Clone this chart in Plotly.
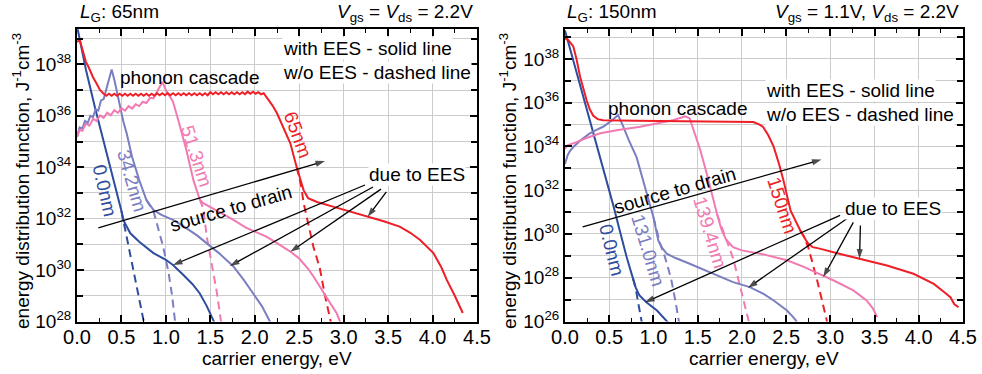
import plotly.graph_objects as go

FONT = "Liberation Sans, Arial, sans-serif"
BLUE = "#2f4d9e"
PURPLE = "#7c7ec2"
PINK = "#f27ab2"
RED = "#ee1f26"

# ---------------- data: L_G = 65 nm (y given as log10 of J^-1 cm^-3) ----------------
blue65_x = [0.0, 0.1, 0.2, 0.3, 0.4, 0.5, 0.52, 0.6, 0.7, 0.86, 1.0, 1.08, 1.2, 1.3, 1.38, 1.46, 1.53, 1.58]
blue65_e = [39.5, 37.8, 36.35, 35.0, 33.75, 32.3, 31.95, 31.43, 31.1, 30.66, 30.4, 30.2, 29.8, 29.45, 29.1, 28.6, 28.07, 27.7]
blue65d_x = [0.5, 0.52, 0.6, 0.63, 0.7, 0.75, 0.78]
blue65d_e = [32.3, 31.95, 30.6, 30.1, 28.9, 28.04, 27.5]

purple65_x = [0.0, 0.03, 0.06, 0.09, 0.12, 0.15, 0.18, 0.21, 0.24, 0.27, 0.30, 0.33, 0.36, 0.39,
              0.42, 0.47, 0.52, 0.56, 0.62, 0.7, 0.78, 0.86, 0.95, 1.08, 1.2, 1.35, 1.46, 1.6, 1.76,
              1.88, 1.98, 2.08, 2.17, 2.22]
purple65_e = [35.18, 35.55, 35.5, 35.8, 35.72, 36.0, 35.95, 36.25, 36.2, 36.6, 36.65, 37.05, 37.35, 37.8,
              37.4, 36.6, 35.8, 35.3, 34.4, 33.5, 32.73, 32.34, 32.15, 31.95, 31.7, 31.35, 31.04, 30.65, 30.14,
              29.6, 29.1, 28.6, 28.0, 27.6]
purple65d_x = [0.78, 0.86, 0.97, 1.03, 1.07, 1.1, 1.12]
purple65d_e = [32.73, 32.3, 30.9, 29.9, 29.0, 28.0, 27.5]

pink65_x = [0.0, 0.03, 0.06, 0.1, 0.14, 0.18, 0.22, 0.26, 0.3, 0.34, 0.38, 0.42, 0.46, 0.5, 0.54,
            0.58, 0.62, 0.66, 0.7, 0.74, 0.78, 0.82, 0.86, 0.9, 0.93, 0.96, 1.0, 1.04, 1.08, 1.15,
            1.23, 1.31, 1.38, 1.42, 1.5, 1.6, 1.76, 1.9, 2.0, 2.13, 2.25, 2.4, 2.5, 2.6, 2.67,
            2.73, 2.8, 2.86, 2.92, 2.97]
pink65_e = [35.18, 35.45, 35.42, 35.7, 35.62, 35.88, 35.8, 36.02, 35.92, 36.12, 36.02, 36.22, 36.12, 36.3, 36.2,
            36.38, 36.28, 36.45, 36.38, 36.55, 36.5, 36.7, 36.68, 36.95, 37.1, 37.32, 37.0, 36.8, 36.55, 35.7,
            34.67, 33.5, 32.75, 32.6, 32.45, 32.25, 31.95, 31.65, 31.5, 31.3, 31.05, 30.72, 30.45, 30.05, 29.7,
            29.36, 28.95, 28.65, 28.33, 27.9]
pink65d_x = [1.38, 1.42, 1.46, 1.52, 1.57, 1.62, 1.64]
pink65d_e = [32.75, 32.4, 31.3, 30.1, 29.2, 28.0, 27.6]

red65_x = [0.0, 0.03, 0.06, 0.1, 0.13, 0.18, 0.22, 0.26,
           0.30, 0.33, 0.36, 0.39, 0.42, 0.45, 0.48, 0.51, 0.54, 0.57, 0.60, 0.63, 0.66, 0.69, 0.72, 0.75,
           0.78, 0.81, 0.84, 0.87, 0.90, 0.93, 0.96, 0.99, 1.02, 1.05, 1.08, 1.11, 1.14, 1.17, 1.20, 1.23,
           1.26, 1.29, 1.32, 1.35, 1.38, 1.41, 1.44, 1.47, 1.50, 1.53, 1.56, 1.59, 1.62, 1.65, 1.68, 1.71,
           1.74, 1.77, 1.80, 1.83, 1.86, 1.89, 1.92, 1.95, 1.98, 2.01, 2.04, 2.07, 2.10,
           2.13, 2.2, 2.25, 2.33, 2.4, 2.47, 2.52, 2.55, 2.6, 2.7, 2.88, 3.0, 3.26, 3.45, 3.63, 3.75,
           3.86, 4.01, 4.1, 4.16, 4.25, 4.34]
red65_e = [38.87, 38.95, 38.6, 38.1, 37.9, 37.5, 37.26, 37.0,
           36.86, 36.78, 36.86, 36.78, 36.86, 36.78, 36.86, 36.78, 36.86, 36.78, 36.86, 36.78, 36.86, 36.78, 36.86, 36.78,
           36.86, 36.78, 36.86, 36.78, 36.88, 36.80, 36.88, 36.80, 36.88, 36.80, 36.88, 36.80, 36.88, 36.80, 36.88, 36.80,
           36.88, 36.80, 36.88, 36.80, 36.88, 36.80, 36.88, 36.80, 36.92, 36.84, 36.92, 36.84, 36.92, 36.84, 36.92, 36.84,
           36.92, 36.84, 36.92, 36.84, 36.92, 36.84, 36.94, 36.86, 36.94, 36.86, 36.92, 36.84, 36.88,
           36.74, 36.4, 36.1, 35.5, 34.93, 34.02, 33.4, 33.1, 32.8, 32.65, 32.47, 32.35, 32.08, 31.9, 31.69, 31.45,
           31.17, 30.66, 30.1, 29.62, 29.0, 28.33]
red65d_x = [2.47, 2.52, 2.55, 2.6, 2.66, 2.73, 2.79, 2.85, 2.88]
red65d_e = [34.02, 33.3, 32.6, 31.8, 30.9, 30.1, 29.0, 28.07, 27.6]

# ---------------- data: L_G = 150 nm ----------------
blue150_x = [0.0, 0.1, 0.2, 0.3, 0.4, 0.47, 0.55, 0.61, 0.7, 0.77, 0.8, 0.84, 0.92, 1.04, 1.15, 1.2]
blue150_e = [39.3, 37.85, 36.35, 34.9, 33.45, 32.45, 31.25, 30.3, 28.9, 27.95, 27.55, 27.2, 26.88, 26.5, 26.05, 25.8]
blue150d_x = [0.77, 0.8, 0.83, 0.86, 0.88]
blue150d_e = [27.95, 27.5, 26.8, 26.1, 25.7]

purple150_x = [0.0, 0.03, 0.057, 0.1, 0.18, 0.28, 0.35, 0.43, 0.5, 0.56, 0.6, 0.65, 0.72, 0.81, 0.886,
               0.95, 1.0, 1.055, 1.1, 1.15, 1.25, 1.41, 1.6, 1.75, 1.9, 2.09, 2.25, 2.36, 2.45, 2.51, 2.58,
               2.61, 2.64]
purple150_e = [33.2, 33.6, 33.8, 34.0, 34.3, 34.6, 34.75, 34.9, 35.1, 35.3, 35.43, 35.0, 34.3, 33.5, 32.45,
               31.5, 30.77, 29.7, 29.35, 29.1, 28.9, 28.64, 28.3, 28.05, 27.8, 27.57, 27.25, 26.96, 26.7, 26.5, 26.2,
               26.05, 25.8]
purple150d_x = [1.0, 1.075, 1.13, 1.2, 1.25, 1.28, 1.3]
purple150d_e = [30.77, 29.56, 28.95, 27.95, 26.9, 26.05, 25.7]

pink150_x = [0.0, 0.03, 0.13, 0.25, 0.4, 0.6, 0.85, 1.05, 1.22, 1.3, 1.36, 1.41, 1.47, 1.53, 1.6,
             1.66, 1.72, 1.77, 1.82, 1.9, 2.0, 2.21, 2.51, 2.7, 2.88, 3.05, 3.26, 3.41, 3.48, 3.53]
pink150_e = [33.9, 34.05, 34.2, 34.4, 34.6, 34.75, 34.9, 35.05, 35.2, 35.3, 35.38, 35.28, 34.6, 33.83, 32.8,
             31.8, 30.9, 30.2, 29.75, 29.4, 29.25, 29.1, 28.8, 28.5, 28.18, 27.85, 27.42, 26.96, 26.6, 26.2]
pink150d_x = [1.72, 1.8, 1.9, 1.98, 2.06, 2.09]
pink150d_e = [30.9, 30.0, 28.9, 27.6, 26.3, 25.8]

red150_x = [0.0, 0.04, 0.094, 0.13, 0.17, 0.21, 0.245, 0.28, 0.32, 0.37, 0.43, 0.8, 1.2, 1.6, 2.0, 2.13,
            2.2, 2.24, 2.3, 2.36, 2.42, 2.47, 2.55, 2.66, 2.72, 2.75, 2.8, 2.88, 3.1, 3.34, 3.64, 3.94,
            4.17, 4.3, 4.36, 4.4, 4.45]
red150_e = [38.94, 38.85, 38.57, 38.0, 37.2, 36.6, 36.1, 35.7, 35.4, 35.25, 35.2, 35.18, 35.16, 35.15, 35.14, 35.12,
            35.0, 34.89, 34.5, 33.98, 33.2, 32.45, 31.08, 30.16, 29.75, 29.56, 29.4, 29.33, 29.1, 28.87, 28.56, 28.18,
            27.72, 27.3, 27.1, 26.8, 26.65]
red150d_x = [2.66, 2.7, 2.75, 2.85, 2.96, 2.99]
red150d_e = [30.16, 29.9, 29.4, 27.9, 26.05, 25.6]

# ---------------- arrows (tail x, tail log10 y, head x, head log10 y) ----------------
arrows65 = [(0.24, 31.64, 2.79, 34.24),   # source to drain
            (3.24, 33.31, 1.08, 30.20),   # due to EES -> 0.0nm
            (3.33, 33.23, 1.72, 30.16),   # -> 34.2nm
            (3.42, 33.15, 2.40, 30.71),   # -> 51.3nm
            (3.48, 33.04, 3.27, 32.07)]   # -> 65nm
arrows150 = [(0.20, 30.32, 2.90, 33.40),
             (3.11, 30.85, 0.905, 26.88),
             (3.19, 30.71, 2.07, 27.54),
             (3.26, 30.53, 2.92, 28.03),
             (3.34, 30.39, 3.33, 28.87)]

# ---------------- axes / tick data ----------------
x_ticks = [0.0, 0.5, 1.0, 1.5, 2.0, 2.5, 3.0, 3.5, 4.0, 4.5]
x_tick_labels = ["0.0", "0.5", "1.0", "1.5", "2.0", "2.5", "3.0", "3.5", "4.0", "4.5"]
x_minor = [0.25, 0.75, 1.25, 1.75, 2.25, 2.75, 3.25, 3.75, 4.25]
y_major_left = [28, 30, 32, 34, 36, 38]
y_minor_left = [29, 31, 33, 35, 37, 39]
y_major_right = [26, 28, 30, 32, 34, 36, 38]
y_minor_right = [27, 29, 31, 33, 35, 37, 39]
y_range_left = [28, 39.37]
y_range_right = [26, 39.36]

fig = go.Figure()


def add(xs, es, color, dash, xa, ya):
    fig.add_trace(go.Scatter(
        x=xs, y=[10 ** e for e in es], mode="lines",
        line=dict(color=color, width=2, dash=dash),
        xaxis=xa, yaxis=ya, showlegend=False, hoverinfo="skip"))


DASH = "8px,5px"
for xa, ya, sets in [
    ("x", "y", [(blue65d_x, blue65d_e, BLUE, DASH), (purple65d_x, purple65d_e, PURPLE, DASH),
                (pink65d_x, pink65d_e, PINK, DASH), (red65d_x, red65d_e, RED, DASH),
                (blue65_x, blue65_e, BLUE, "solid"), (purple65_x, purple65_e, PURPLE, "solid"),
                (pink65_x, pink65_e, PINK, "solid"), (red65_x, red65_e, RED, "solid")]),
    ("x2", "y2", [(blue150d_x, blue150d_e, BLUE, DASH), (purple150d_x, purple150d_e, PURPLE, DASH),
                  (pink150d_x, pink150d_e, PINK, DASH), (red150d_x, red150d_e, RED, DASH),
                  (blue150_x, blue150_e, BLUE, "solid"), (purple150_x, purple150_e, PURPLE, "solid"),
                  (pink150_x, pink150_e, PINK, "solid"), (red150_x, red150_e, RED, "solid")]),
]:
    for xs, es, c, d in sets:
        add(xs, es, c, d, xa, ya)

# arrows: black shaft with an arrow marker at the head
for xa, ya, arr in [("x", "y", arrows65), ("x2", "y2", arrows150)]:
    for x0, e0, x1, e1 in arr:
        fig.add_trace(go.Scatter(
            x=[x0, x1], y=[10 ** e0, 10 ** e1], mode="lines+markers",
            line=dict(color="black", width=1.3),
            marker=dict(symbol=["circle", "arrow"], size=[0, 10], color="black",
                        angleref="previous", line=dict(width=0)),
            xaxis=xa, yaxis=ya, showlegend=False, hoverinfo="skip"))


def xaxis(domain, anchor):
    return dict(domain=domain, anchor=anchor, range=[0, 4.5], tickmode="array", automargin=False,
                tickvals=x_ticks, ticktext=x_tick_labels, ticks="inside", ticklen=7, tickwidth=1.5,
                tickcolor="black", showline=True, linewidth=2, linecolor="black", mirror="allticks",
                showgrid=True, gridcolor="#cccccc", gridwidth=1, zeroline=False, ticklabelstandoff=-4,
                tickfont=dict(size=20, family=FONT, color="black"),
                minor=dict(tickvals=x_minor, ticks="inside", ticklen=4, tickwidth=1.2,
                           tickcolor="black", showgrid=False))


def yaxis(domain, anchor, major, minor, rng):
    return dict(domain=domain, anchor=anchor, type="log", range=rng, tickmode="array", automargin=False,
                tickvals=[10.0 ** d for d in major], ticktext=["10<sup>%d</sup>" % d for d in major],
                ticks="inside", ticklen=7,
                tickwidth=1.5, tickcolor="black", showline=True, linewidth=2, linecolor="black",
                mirror="allticks", showgrid=True, gridcolor="#cccccc", gridwidth=1, zeroline=False,
                tickfont=dict(size=19, family=FONT, color="black"),
                minor=dict(tickvals=[10.0 ** d for d in minor], ticks="inside", ticklen=6, tickwidth=1.5,
                           tickcolor="black", showgrid=True, gridcolor="#cccccc", gridwidth=1))


W, H = 982, 374
yd = [(374 - 321.5) / H, (374 - 29.2) / H]
fig.update_layout(
    width=W, height=H, margin=dict(l=0, r=0, t=0, b=0, pad=0, autoexpand=False),
    paper_bgcolor="white", plot_bgcolor="white", showlegend=False,
    font=dict(family=FONT, size=19, color="black"),
    xaxis=xaxis([77 / W, 477 / W], "y"),
    yaxis=yaxis(yd, "x", y_major_left, y_minor_left, y_range_left),
    xaxis2=xaxis([565 / W, 963 / W], "y2"),
    yaxis2=yaxis(yd, "x2", y_major_right, y_minor_right, y_range_right),
)

ann = []


def txt(x, y, s, xr, yr, color="black", angle=0, xanchor="center", yanchor="middle", bg=None, size=19):
    d = dict(x=x, y=y, text=s, xref=xr, yref=yr, showarrow=False, textangle=angle,
             xanchor=xanchor, yanchor=yanchor, font=dict(size=size, color=color, family=FONT))
    if bg:
        d["bgcolor"] = bg
        d["borderpad"] = 0
    ann.append(d)


# panel titles
txt(78 / W, (H - 13) / H, "<i>L</i><sub>G</sub>: 65nm", "paper", "paper", xanchor="left")
txt(475 / W, (H - 13) / H, "<i>V</i><sub>gs</sub> = <i>V</i><sub>ds</sub> = 2.2V", "paper", "paper", xanchor="right")
txt(565 / W, (H - 13) / H, "<i>L</i><sub>G</sub>: 150nm", "paper", "paper", xanchor="left")
txt(961 / W, (H - 13) / H, "<i>V</i><sub>gs</sub> = 1.1V, <i>V</i><sub>ds</sub> = 2.2V", "paper", "paper", xanchor="right")

# axis titles
txt(277 / W, (H - 358) / H, "carrier energy, eV", "paper", "paper")
txt(764 / W, (H - 358) / H, "carrier energy, eV", "paper", "paper")
ytitle = "energy distribution function, J<sup>-1</sup>cm<sup>-3</sup>"
txt(21 / W, (H - 181) / H, ytitle, "paper", "paper", angle=-90)
txt(508 / W, (H - 181) / H, ytitle, "paper", "paper", angle=-90)

# left panel annotations
txt(1.27, 37.5, "phonon cascade", "x", "y")
txt(2.306, 38.63, "with EES - solid line", "x", "y", xanchor="left", bg="white")
txt(2.306, 37.70, "w/o EES - dashed line", "x", "y", xanchor="left", bg="white")
txt(0.315, 33.11, "0.0nm", "x", "y", color=BLUE, angle=77)
txt(0.62, 33.5, "34.2nm", "x", "y", color=PURPLE, angle=74)
txt(1.34, 34.45, "51.3nm", "x", "y", color=PINK, angle=72)
txt(2.49, 35.25, "65nm", "x", "y", color=RED, angle=70)
txt(1.73, 32.41, "source to drain", "x", "y", angle=-16)
txt(3.82, 33.7, "due to EES", "x", "y", bg="white")

# right panel annotations
txt(1.27, 35.75, "phonon cascade", "x2", "y2")
txt(2.262, 36.57, "with EES - solid line", "x2", "y2", xanchor="left", bg="white")
txt(2.262, 35.47, "w/o EES - dashed line", "x2", "y2", xanchor="left", bg="white")
txt(0.53, 29.25, "0.0nm", "x2", "y2", color=BLUE, angle=76)
txt(0.94, 29.25, "131.0nm", "x2", "y2", color=PURPLE, angle=73)
txt(1.64, 30.07, "139.4nm", "x2", "y2", color=PINK, angle=73)
txt(2.455, 31.3, "150nm", "x2", "y2", color=RED, angle=72)
txt(1.24, 32.0, "source to drain", "x2", "y2", angle=-16)
txt(3.71, 31.17, "due to EES", "x2", "y2", bg="white")

fig.update_layout(annotations=ann)
fig.write_html("out.html")
